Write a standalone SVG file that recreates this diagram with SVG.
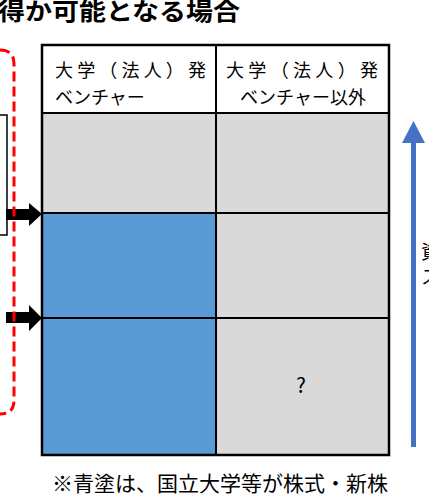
<svg xmlns="http://www.w3.org/2000/svg" width="429" height="498" viewBox="0 0 429 498">
<style>
text{font-family:"Noto Sans CJK JP","Noto Sans",sans-serif;fill:#000}
.hd{font-size:18px}
.gray{fill:#d9d9d9}
.blue{fill:#5b9bd5}
.grid{stroke:#000;stroke-width:2;fill:none}
</style>
<rect width="429" height="498" fill="#fff"/>
<text x="-2" y="20" font-size="24" font-weight="bold" textLength="242" lengthAdjust="spacingAndGlyphs">得か可能となる場合</text>
<g id="left-box"><rect x="-3" y="115" width="10" height="120" fill="#fff" stroke="#000" stroke-width="1.5"/></g>
<g id="table">
<rect x="42" y="45" width="347" height="68" fill="#fff"/>
<rect class="gray" x="42" y="113" width="174" height="100"/>
<rect class="gray" x="216" y="113" width="173" height="342"/>
<rect class="blue" x="42" y="213" width="174" height="242"/>
<path class="grid" d="M216,45V455M42,113H389M42,213H389M42,318H389"/>
<rect x="42" y="45" width="347" height="410" fill="none" stroke="#000" stroke-width="2.5"/>
<text class="hd" x="55" y="77" textLength="151" lengthAdjust="spacing">大学（法人）発</text>
<text class="hd" x="55" y="103.5">ベンチャー</text>
<text class="hd" x="226" y="77" textLength="152" lengthAdjust="spacing">大学（法人）発</text>
<text class="hd" x="303" y="103.5" text-anchor="middle">ベンチャー以外</text>
<text x="301" y="393" font-size="21" font-family="Liberation Sans, sans-serif" text-anchor="middle">?</text>
</g>
<g id="connectors">
<polygon points="6,209 29,209 29,203 42,214 29,226 29,220 6,220" fill="#000"/>
<polygon points="6,312 29,312 29,305 42,318 29,331 29,323 6,323" fill="#000"/>
<path d="M413.5,447V140" stroke="#4472c4" stroke-width="5"/>
<polygon points="413.5,121 425,143 402,143" fill="#4472c4"/>
</g>
<path d="M0,50 Q14,50 14,64 L14,400 Q14,414 0,414" fill="none" stroke="#ff0000" stroke-width="3" stroke-dasharray="10,5"/>
<text x="421" y="259" font-size="19">資</text>
<text x="421" y="284" font-size="19">ス</text>
<text x="52" y="491" font-size="21" textLength="336" lengthAdjust="spacing">※青塗は、国立大学等が株式・新株</text>
</svg>
